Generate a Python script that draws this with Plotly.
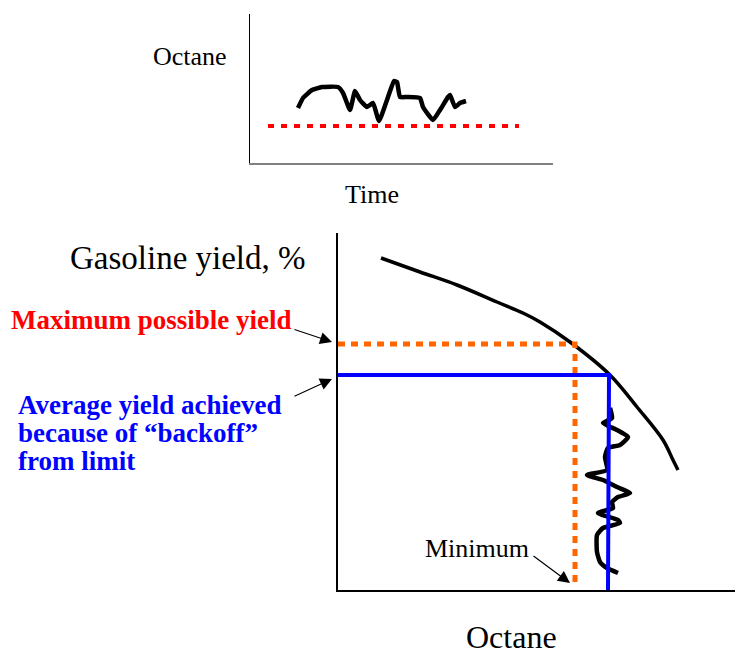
import plotly.graph_objects as go

W, H = 735, 655

# ---- top chart: octane vs time ----
time_vals = [48, 53, 62, 72, 88, 93, 100, 105, 110, 117, 123, 129, 137, 144, 147, 150,
             157, 170, 173, 183, 190, 198, 200, 205, 210, 216]
octane_vals = [55, 65, 73, 76, 76, 70, 53, 72, 63, 56, 60, 42, 63, 82, 81, 66,
               66, 65, 56, 43, 53, 66, 68, 56, 60, 62]
limit_time = [18, 269]
limit_octane = [37, 37]

# ---- bottom chart: gasoline yield vs octane ----
curve_oct = [43, 82, 119, 159, 185, 202, 232, 272, 299, 325, 335, 340]
curve_yield = [332, 318, 305, 288, 277, 268, 248, 215, 183, 150, 130, 120]

max_oct = [0, 237, 237]
max_yield = [246, 246, 3]

avg_oct = [0, 271, 270]
avg_yield = [215, 215, 0]

wig_oct = [272, 274, 265, 279, 290, 282, 270, 267, 269, 249, 265, 279, 292, 280, 274,
           275, 260, 280, 282, 265, 259, 259, 262, 269, 280]
wig_yield = [182, 172, 167, 160, 153, 145, 142, 133, 120, 115, 110, 103, 97, 93, 88,
             82, 77, 70, 67, 62, 55, 38, 28, 22, 17]

fig = go.Figure()

fig.add_trace(go.Scatter(x=limit_time, y=limit_octane, mode="lines",
                         line=dict(color="#ff0000", width=4, dash="6px,7px"),
                         xaxis="x", yaxis="y", hoverinfo="skip"))
fig.add_trace(go.Scatter(x=time_vals, y=octane_vals, mode="lines",
                         line=dict(color="black", width=4.5, shape="spline", smoothing=0.4),
                         xaxis="x", yaxis="y", hoverinfo="skip"))

fig.add_trace(go.Scatter(x=curve_oct, y=curve_yield, mode="lines",
                         line=dict(color="black", width=3.5, shape="spline"),
                         xaxis="x2", yaxis="y2", hoverinfo="skip"))
fig.add_trace(go.Scatter(x=wig_oct, y=wig_yield, mode="lines",
                         line=dict(color="black", width=4.5, shape="spline", smoothing=0.5),
                         xaxis="x2", yaxis="y2", hoverinfo="skip"))
fig.add_trace(go.Scatter(x=max_oct, y=max_yield, mode="lines",
                         line=dict(color="#ff6600", width=5, dash="7px,6px"),
                         xaxis="x2", yaxis="y2", hoverinfo="skip"))
fig.add_trace(go.Scatter(x=avg_oct, y=avg_yield, mode="lines",
                         line=dict(color="#0000ff", width=4),
                         xaxis="x2", yaxis="y2", hoverinfo="skip"))

ax_common = dict(showgrid=False, zeroline=False, showticklabels=False, ticks="",
                 fixedrange=True)

fig.update_layout(
    width=W, height=H, margin=dict(l=0, r=0, t=0, b=0),
    paper_bgcolor="white", plot_bgcolor="white", showlegend=False,
    xaxis=dict(domain=[250 / W, 553 / W], range=[0, 303], anchor="y",
               showline=True, linecolor="#808080", linewidth=2, **ax_common),
    yaxis=dict(domain=[1 - 163 / H, 1 - 14 / H], range=[0, 149], anchor="x",
               showline=True, linecolor="black", linewidth=1, **ax_common),
    xaxis2=dict(domain=[338 / W, 1.0], range=[0, 397], anchor="y2",
                showline=True, linecolor="black", linewidth=1.5, **ax_common),
    yaxis2=dict(domain=[1 - 590 / H, 1 - 233 / H], range=[0, 357], anchor="x2",
                showline=True, linecolor="black", linewidth=1.5, **ax_common),
)

serif = "Liberation Serif, Times New Roman, serif"


def px(x):
    return x / W


def py(y):
    return 1 - y / H


def label(text, x, y, size, color="black", xanchor="center"):
    fig.add_annotation(text=text, x=px(x), y=py(y), xref="paper", yref="paper",
                       xanchor=xanchor, yanchor="middle", showarrow=False,
                       font=dict(family=serif, size=size, color=color))


label("Octane", 190, 57, 26)
label("Time", 372, 195, 26)
label("Gasoline yield, %", 188, 258, 33)
label("Octane", 512, 637, 32)
label("<b>Maximum possible yield</b>", 9, 320, 27, "#ff0000", "left")
label("<b>Average yield achieved</b>", 16, 405, 27, "#0000ff", "left")
label("<b>because of “backoff”</b>", 16, 433, 27, "#0000ff", "left")
label("<b>from limit</b>", 16, 461, 27, "#0000ff", "left")
label("Minimum", 477, 548, 26)


def arrow(tail, tip):
    fig.add_annotation(text="", x=px(tip[0]), y=py(tip[1]), xref="paper", yref="paper",
                       ax=tail[0] - tip[0], ay=tail[1] - tip[1],
                       showarrow=True, arrowhead=2, arrowsize=2, arrowwidth=1.2,
                       arrowcolor="black", standoff=0)


arrow((293, 329), (332, 342))
arrow((293, 397), (332, 379))
arrow((532, 555), (570, 583))

fig.write_html("out.html", config={"displayModeBar": False},
               post_script="document.body.style.margin='0';")
